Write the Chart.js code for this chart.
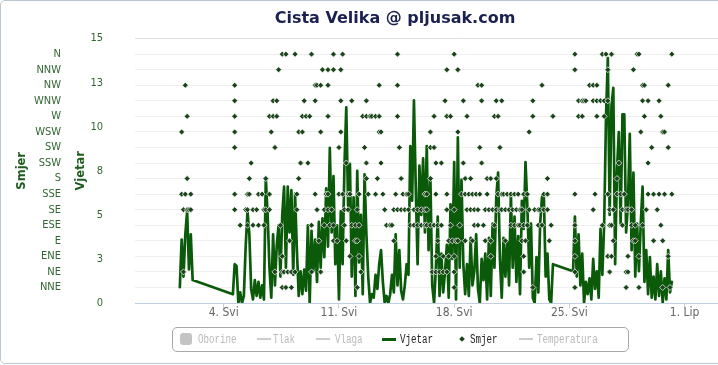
<!DOCTYPE html>
<html>
<head>
<meta charset="utf-8">
<script src="https://cdn.jsdelivr.net/npm/chart.js@4.4.1/dist/chart.umd.min.js"></script>
<style>
html,body{margin:0;padding:0;overflow:hidden;background:#fff;width:718px;height:365px}
#wrap{position:relative;width:800px;height:365px}
#c{position:absolute;left:0;top:0}
#frame{position:absolute;left:0;top:0;width:800px;height:364px;box-sizing:border-box;border:1px solid #b9c6d4;border-radius:5px;pointer-events:none}
#legend{position:absolute;left:172px;top:327px;width:457px;height:25px;box-sizing:border-box;border:1px solid #a8a8a8;border-radius:5px;background:#fff}
#legend span{position:absolute;display:block}
#legend .txt{top:0;height:23px;line-height:23px;font-family:'Liberation Mono','DejaVu Sans Mono',monospace;font-size:9.2px;white-space:nowrap;transform:scaleY(1.35);transform-origin:50% 50%}
#legend .ln{top:10px;height:2px;width:14px}
</style>
</head>
<body>
<div id="wrap">
<canvas id="c" width="800" height="365"></canvas>
<div id="legend">
  <span style="left:7px;top:5px;width:12px;height:12px;border-radius:3px;background:#c4c4c4"></span>
  <span class="txt" style="left:25px;color:#b9b9b9">Oborine</span>
  <span class="ln" style="left:84px;background:#cccccc"></span>
  <span class="txt" style="left:100px;color:#b9b9b9">Tlak</span>
  <span class="ln" style="left:143px;background:#cccccc"></span>
  <span class="txt" style="left:162px;color:#b9b9b9">Vlaga</span>
  <span class="ln" style="left:209px;background:#0a5a0a;height:2.5px"></span>
  <span class="txt" style="left:227px;color:#222">Vjetar</span>
  <span style="left:287px;top:9px;width:4px;height:4px;background:#1a441a;transform:rotate(45deg)"></span>
  <span class="txt" style="left:297px;color:#222">Smjer</span>
  <span class="ln" style="left:346px;background:#cccccc"></span>
  <span class="txt" style="left:364px;color:#b9b9b9">Temperatura</span>
</div>
<div id="frame"></div>
</div>
<script>
// ---- data ----
// time axis: days since 1 May 00:00; wind/direction samples every 1/9 day
const samplesPerDay = 9;
const xTickDays = [3, 10, 17, 24, 31];
const xTickLabels = ['4. Svi', '11. Svi', '18. Svi', '25. Svi', '1. Lip'];
const windTicks = [0, 2.5, 5, 7.5, 10, 12.5, 15];
const dirLabels = ['NNE','NE','ENE','E','ESE','SE','SSE','S','SSW','SW','WSW','W','WNW','NW','NNW','N'];

// Vjetar (wind speed), three recorded stretches
const windStartA = 3;
const windA = [0.9, 3.6, 1.5, 3.9, 5.2, 1.9, 3.9, 1.3];
const windStartB = 32;
const windB = [
 0.5, 2.2, 2.1, 0.0, 0.6, 0.0, 0.4, 3.2, 5.2, 3.9,
 0.8, 0.2, 1.3, 0.4, 1.2, 0.3, 1.0, 0.2, 7.1, 5.0,
 2.0, 0.3, 3.9, 1.0, 3.3, 4.4, 1.5, 5.0, 6.6, 2.0,
 6.6, 4.0, 6.4, 1.6, 6.2, 3.0, 0.4, 1.8, 0.5, 1.9,
 0.7, 4.4, 0.0, 4.1, 1.8, 3.6, 1.2, 4.6, 2.0, 4.8,
 2.6, 6.5, 3.2, 8.8, 4.0, 7.2, 2.2, 4.4, 0.2, 5.2,
 2.2, 7.8, 11.1, 5.5, 7.9, 1.5, 6.0, 0.4, 7.5, 2.3,
 5.0, 0.5, 7.3, 3.9, 1.5, 0.0, 0.5, 0.3, 1.6, 0.8,
 2.2, 3.0, 1.2, 0.0, 0.4, 0.0, 0.5, 1.6, 0.6, 3.9,
 1.0, 3.0, 0.7, 0.2, 1.0, 2.2, 1.6, 8.9, 5.8, 11.5,
 6.5, 2.2, 7.8, 5.0, 8.2, 4.0, 8.9, 3.0, 7.0, 1.0,
 0.0, 2.0, 4.9, 0.4, 2.8, 0.6, 1.8, 3.3, 0.3, 5.6,
 2.5, 8.0, 0.2, 9.4, 2.0, 7.0, 2.2, 0.5, 2.2, 0.4,
 3.7, 1.0, 1.8, 3.9, 0.8, 0.0, 2.5, 1.3, 2.8, 0.2,
 3.7, 0.4, 4.5, 2.0, 6.0, 7.4, 2.5, 0.3, 3.7, 1.5,
 3.5, 1.0, 6.2, 2.0, 4.9, 1.2, 3.8, 0.5, 5.8, 4.2,
 8.0, 5.5, 2.0, 4.5, 0.3, 0.0, 2.6, 0.6, 4.5, 6.0,
 6.2, 1.5, 2.8, 0.2, 0.0, 2.2];
const windStartC = 218;
const windC = [
 1.8, 4.9, 1.5, 3.9, 1.0, 2.8, 0.0, 1.2, 0.5, 1.4,
 0.2, 2.5, 0.8, 1.8, 0.3, 4.2, 1.6, 4.5, 10.5, 13.9,
 5.0, 11.2, 12.2, 2.2, 7.5, 9.7, 4.5, 10.7, 10.7, 4.0,
 5.6, 9.6, 3.0, 7.4, 1.5, 4.5, 1.8, 4.5, 6.6, 1.2,
 3.0, 0.5, 2.6, 0.3, 1.5, 0.2, 2.2, 0.4, 1.8, 0.0,
 1.4, 0.2, 3.0, 0.6, 1.2];

// Smjer (wind direction): sample indices at which each direction was recorded
const smjerNNE = [59, 61, 64, 100, 153, 196, 219, 247, 254, 267, 271];
const smjerNE  = [5, 55, 59, 60, 62, 64, 66, 75, 80, 102, 141, 143, 145, 147, 149, 153, 191, 219, 238, 247, 248];
const smjerENE = [59, 96, 101, 143, 147, 150, 153, 173, 191, 219, 237, 239, 248, 254, 270];
const smjerE   = [63, 79, 87, 89, 94, 99, 100, 120, 144, 150, 152, 154, 155, 159, 163, 170, 173, 181, 190, 192, 205, 219, 240, 251, 252, 262, 267];
const smjerESE = [36, 40, 43, 46, 49, 58, 75, 82, 85, 87, 93, 97, 99, 101, 116, 118, 119, 129, 131, 133, 135, 137, 138, 140, 142, 144, 146, 151, 156, 164, 166, 169, 175, 184, 186, 188, 189, 191, 193, 199, 201, 206, 219, 234, 238, 239, 245, 250, 252, 256, 266];
const smjerSE  = [5, 7, 8, 9, 33, 39, 40, 43, 45, 49, 50, 52, 67, 78, 82, 84, 86, 93, 95, 100, 115, 120, 122, 124, 126, 128, 131, 133, 135, 137, 138, 149, 153, 160, 162, 164, 166, 170, 172, 174, 176, 178, 179, 181, 183, 185, 187, 189, 190, 194, 197, 199, 200, 202, 204, 229, 238, 240, 245, 247, 248, 250, 258, 264];
const smjerSSE = [4, 6, 9, 33, 40, 41, 46, 48, 52, 67, 77, 83, 84, 90, 92, 95, 96, 101, 106, 110, 114, 121, 125, 127, 128, 137, 138, 143, 149, 157, 159, 161, 163, 165, 167, 171, 177, 179, 180, 182, 184, 186, 188, 191, 193, 202, 204, 219, 230, 237, 242, 244, 246, 259, 262, 265, 268, 272];
const smjerS   = [7, 41, 50, 68, 105, 111, 124, 140, 159, 162, 171, 173, 176, 204, 242];
const smjerSSW = [42, 69, 73, 94, 105, 113, 143, 146, 158, 168, 243, 259];
const smjerSW  = [33, 55, 90, 104, 123, 140, 142, 167, 178, 261, 270];
const smjerWSW = [4, 33, 53, 68, 70, 80, 91, 112, 113, 140, 155, 194, 255, 267, 268];
const smjerW   = [7, 33, 52, 54, 56, 70, 72, 74, 84, 103, 105, 107, 108, 110, 112, 122, 142, 149, 151, 160, 175, 177, 196, 207, 221, 223, 231, 235, 257, 266];
const smjerWNW = [33, 54, 56, 71, 77, 91, 97, 105, 148, 158, 168, 176, 179, 196, 221, 223, 224, 225, 229, 231, 233, 235, 237, 256, 259, 265];
const smjerNW  = [6, 33, 77, 78, 80, 84, 112, 122, 166, 168, 201, 227, 229, 231, 256, 257, 270];
const smjerNNW = [57, 81, 84, 87, 91, 149, 155, 219, 237, 251];
const smjerN   = [59, 61, 66, 75, 87, 92, 122, 153, 219, 234, 236, 239, 253, 254, 272];

// ---- build datasets ----
const seg = (start, vals) => vals.map((v, i) => ({x: (start + i) / samplesPerDay, y: v}));
const windPts = [].concat(seg(windStartA, windA), seg(windStartB, windB), seg(windStartC, windC));
const smjerByDir = [smjerNNE, smjerNE, smjerENE, smjerE, smjerESE, smjerSE, smjerSSE, smjerS,
                    smjerSSW, smjerSW, smjerWSW, smjerW, smjerWNW, smjerNW, smjerNNW, smjerN];
const smjerPts = [];
smjerByDir.forEach((list, k) => list.forEach(n => smjerPts.push({x: n / samplesPerDay, y: k + 1})));

const NARROW = "'Liberation Sans Narrow','DejaVu Sans Condensed','Arial Narrow','DejaVu Sans',sans-serif";
const GREEN_TXT = '#336633';

new Chart(document.getElementById('c'), {
  type: 'scatter',
  data: {
    datasets: [
      {
        label: 'Smjer', data: smjerPts, xAxisID: 'x', yAxisID: 'smjer', order: 1,
        pointStyle: 'rectRot', pointRadius: 3, pointBackgroundColor: '#1a441a',
        pointBorderColor: 'rgba(255,255,255,0.9)', pointBorderWidth: 0.8, showLine: false
      },
      {
        label: 'Vjetar', data: windPts, xAxisID: 'x', yAxisID: 'vjetar', order: 2,
        showLine: true, borderColor: '#0a5a0a', borderWidth: 2.7, pointRadius: 0,
        tension: 0, fill: false, borderJoinStyle: 'round', borderCapStyle: 'round'
      }
    ]
  },
  options: {
    responsive: false, animation: false, devicePixelRatio: 1,
    layout: {padding: {left: 0, right: 10, top: 0, bottom: 42}},
    plugins: {
      legend: {display: false},
      tooltip: {enabled: false},
      title: {
        display: true, text: 'Cista Velika @ pljusak.com', color: '#1a2050',
        font: {family: "'DejaVu Sans',sans-serif", size: 16, weight: 'bold'},
        padding: {top: 7, bottom: 10}
      }
    },
    scales: {
      x: {
        type: 'linear', position: 'bottom', min: -2.39, max: 37.4,
        afterBuildTicks: s => { s.ticks = xTickDays.map(v => ({value: v})); },
        ticks: {
          callback: (v, i) => xTickLabels[i], color: '#666666', autoSkip: false, maxRotation: 0,
          font: {family: NARROW, size: 12}, padding: -2
        },
        grid: {display: true, drawOnChartArea: false, drawTicks: true, tickLength: 5, color: '#c0d0e0'},
        border: {display: true, color: '#c0d0e0', width: 1},
        afterFit: s => { s.height = 20; }
      },
      smjer: {
        type: 'linear', position: 'left', weight: 1, min: 0, max: 17,
        afterBuildTicks: s => { s.ticks = dirLabels.map((_, i) => ({value: i + 1})); },
        ticks: {callback: (v, i) => dirLabels[i], color: GREEN_TXT, autoSkip: false,
                font: {family: NARROW, size: 11}, padding: 3},
        grid: {color: '#efefef', drawTicks: false},
        border: {display: false},
        title: {display: true, text: 'Smjer', color: '#1e5c1e',
                font: {family: "'DejaVu Sans',sans-serif", size: 11.5, weight: 'bold'},
                padding: {top: 15, bottom: 0}},
        afterFit: s => { s.width = 64; }
      },
      vjetar: {
        type: 'linear', position: 'left', weight: 0, min: 0, max: 15,
        afterBuildTicks: s => { s.ticks = windTicks.map(v => ({value: v})); },
        ticks: {callback: v => String(Math.round(v)), color: GREEN_TXT, autoSkip: false,
                font: {family: NARROW, size: 11}, padding: 32},
        grid: {drawTicks: false,
               color: c => (c.tick && c.tick.value === 15) ? '#e2e2e2' : 'rgba(0,0,0,0)'},
        border: {display: false},
        title: {display: true, text: 'Vjetar', color: '#1e5c1e',
                font: {family: "'DejaVu Sans',sans-serif", size: 11.5, weight: 'bold'},
                padding: {top: 10, bottom: 0}},
        afterFit: s => { s.width = 71; }
      }
    }
  }
});
</script>
</body>
</html>
